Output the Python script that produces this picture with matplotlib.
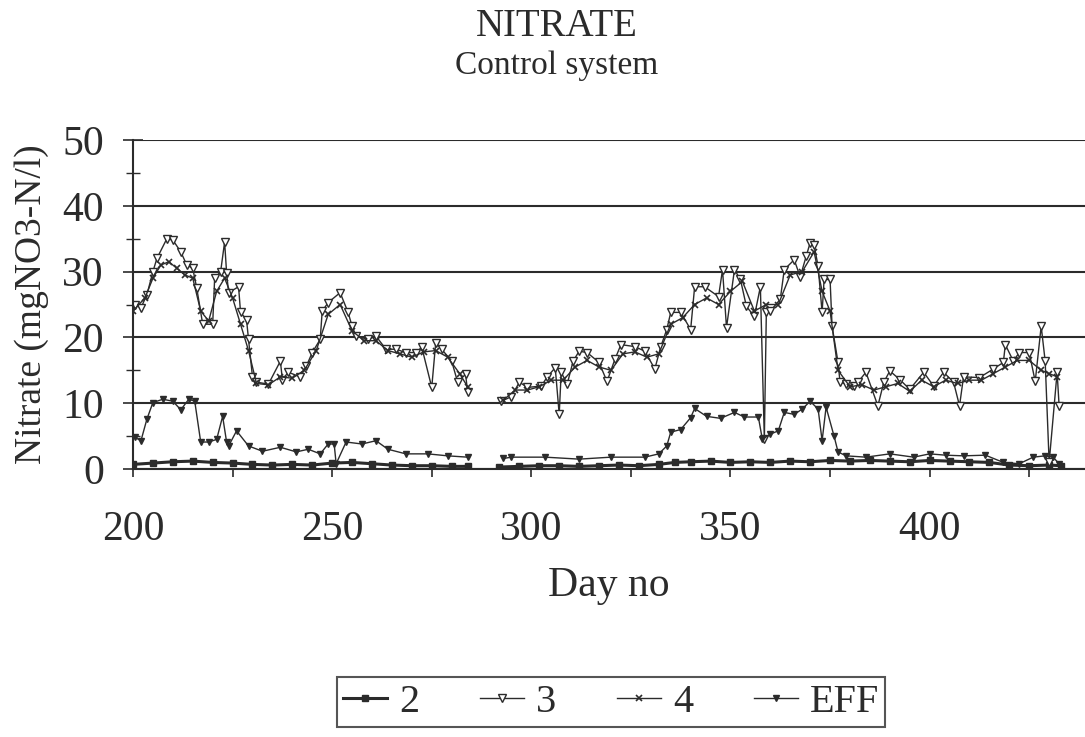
import numpy as np
import matplotlib
matplotlib.use("Agg")
import matplotlib.pyplot as plt
from matplotlib.ticker import MultipleLocator

plt.rcParams['font.family'] = ['Liberation Serif', 'DejaVu Serif']

# ---- data ----
nan = np.nan

day_3 = [200.5, 202, 203.5, 205, 206, 208.5, 210, 212, 213.5, 215, 216, 217.5, 220, 220.5, 222,
         223, 223.5, 224, 226.5, 227, 228.5, 229, 230, 231, 234, 237, 237.5, 239, 242, 243.5,
         245, 247, 247.5, 249, 252, 254, 255, 256, 259, 261, 263.5, 266, 268.5, 271, 272.5,
         275, 276, 277.5, 280, 281.5, 283.5, 284, 288,
         292.5, 295, 297, 299, 302.5, 304, 306, 307, 307.5, 309, 310.5, 312, 314, 317, 319,
         321, 322.5, 326, 328.5, 331, 332.5, 334, 335, 337.5, 340, 341, 343.5, 347, 348, 349,
         351, 352.5, 354, 356, 357.5, 358.5, 359, 360, 362.5, 363.5, 366, 367.5, 369, 370, 371,
         372, 373, 373.5, 375, 375.5, 377, 377.5, 379, 381, 382, 384, 387, 388.5, 390, 392.5,
         395, 398.5, 401, 403.5, 406, 407.5, 408.5, 412.5, 416, 418.5, 419, 421, 422.5, 425,
         426.5, 428, 429, 430, 432, 432.5]
nitrate_3 = [25, 24.5, 26.5, 30, 32, 35, 34.8, 33, 31, 30.5, 27.5, 22, 22, 29, 30,
             34.5, 29.8, 26.8, 27.7, 23.8, 22.7, 19.7, 14, 13.2, 12.9, 16.4, 13.6, 14.7, 14, 15.6,
             17.7, 19.7, 24, 25.3, 26.8, 23.8, 21.7, 20.2, 19.7, 20.2, 18.2, 18.2, 17.7, 17.7, 18.5,
             12.4, 19.2, 18.2, 16.4, 13.2, 14.4, 11.7, nan,
             10.3, 11, 13.2, 12.4, 12.6, 14, 15.4, 8.3, 14.7, 12.9, 16.4, 17.9, 17.7, 16.2, 13.3,
             16.7, 18.9, 18.6, 17.9, 15.2, 18.6, 21.2, 23.8, 23.8, 21.2, 27.7, 27.7, 26.2, 30.3, 21.5,
             30.3, 28.8, 24.7, 23.2, 27.7, 4.5, 23.8, 24, 25.8, 30.3, 31.8, 29.2, 32.3, 34.4, 34,
             30.8, 23.8, 28.8, 28.8, 21.7, 16.2, 13.2, 12.9, 12.6, 13.2, 14.7, 9.6, 13.2, 14.9, 13.6,
             12.1, 14.7, 12.6, 14.7, 13.2, 9.6, 14, 13.9, 15.2, 16.2, 18.9, 16.4, 17.7, 17.7,
             13.3, 21.7, 16.4, 1, 14.7, 9.6]

day_4 = [200, 203, 205, 207, 209, 211, 213, 215, 217, 219, 221, 223, 225, 227, 229, 231, 234,
         237, 240, 243, 246, 249, 252, 255, 258, 261, 264, 267, 270, 273, 276, 279, 282, 284, 288,
         293, 296, 299, 302, 305, 308, 311, 314, 317, 320, 323, 326, 329, 332, 335, 338, 341,
         344, 347, 350, 353, 356, 359, 362, 365, 368, 371, 373, 375, 377, 380, 383, 386, 389,
         392, 395, 398, 401, 404, 407, 410, 413, 416, 419, 422, 425, 428, 430, 432]
nitrate_4 = [24, 26, 29, 31, 31.5, 30.5, 29.5, 29, 24, 22.5, 27, 29, 26, 22, 18, 13, 12.8,
             14, 13.8, 15, 18, 23.5, 25, 21, 19.5, 19.5, 18, 17.5, 17, 17.8, 18, 17, 14.5, 12.5, nan,
             10.5, 12, 12, 12.5, 13.5, 13.5, 15.5, 16.5, 15.5, 15, 17.5, 17.8, 17, 17.5, 22, 23, 25,
             26, 25, 27, 28.5, 24, 25, 25, 29.5, 30, 33, 27, 24, 15, 12.5, 12.8, 12, 12.5,
             13, 11.8, 13.5, 12.5, 13.5, 13, 13.5, 13.5, 14.5, 15.5, 16.5, 16.5, 15, 14.5, 14]

day_eff = [200.5, 202, 203.5, 205, 207.5, 210, 212, 214, 215.5, 217, 219, 221, 222.5, 223.5, 224,
           226, 229, 232.5, 237, 241, 244, 247, 249, 250.5, 251, 253.5, 257.5, 261, 264, 268.5,
           274, 279, 284, 288,
           293, 295, 303.5, 312, 320, 328.5, 332, 334, 335, 337.5, 340, 341, 344, 347.5, 351,
           353.5, 357, 358, 360, 362, 363.5, 366, 368, 370, 372, 373, 374, 376, 377, 379, 384,
           390, 396, 400, 404, 408.5, 414, 418.5, 422.5, 426, 429, 431, 432.5]
nitrate_eff = [4.8, 4.3, 7.6, 10.1, 10.6, 10.3, 9, 10.6, 10.3, 4.1, 4.1, 4.5, 8, 4.1, 3.5,
               5.8, 3.5, 2.7, 3.3, 2.6, 3, 2.3, 3.8, 3.8, 0.8, 4.1, 3.8, 4.3, 3, 2.3,
               2.3, 2, 1.8, nan,
               1.6, 1.8, 1.8, 1.5, 1.8, 1.8, 2.3, 3.5, 5.6, 6, 7.8, 9.2, 8, 7.7, 8.6,
               7.9, 7.9, 4.5, 5.3, 5.8, 8.6, 8.3, 9.1, 10.3, 9.1, 4.3, 9.4, 5, 2.6, 2, 1.8,
               2.3, 1.8, 2.3, 2.1, 2, 2.1, 1, 0.8, 1.8, 2, 1.8, 0.8]

day_2 = [200, 205, 210, 215, 220, 225, 230, 235, 240, 245, 250, 255, 260, 265, 270, 275, 280,
         284, 288, 292, 297, 302, 307, 312, 317, 322, 327, 332, 336, 340, 345, 350, 355, 360,
         365, 370, 375, 380, 385, 390, 395, 400, 405, 410, 415, 420, 425, 430, 433]
nitrate_2 = [0.7, 0.9, 1.1, 1.2, 1.0, 0.9, 0.7, 0.6, 0.7, 0.6, 0.9, 1.0, 0.8, 0.6, 0.5, 0.5, 0.4,
             0.4, nan, 0.3, 0.4, 0.5, 0.5, 0.4, 0.5, 0.6, 0.5, 0.7, 1.0, 1.1, 1.2, 1.0, 1.1, 1.0,
             1.2, 1.1, 1.3, 1.2, 1.3, 1.2, 1.1, 1.3, 1.2, 1.1, 1.0, 0.6, 0.5, 0.6, 0.5]

labels = ['2', '3', '4', 'EFF']

# ---- figure ----
ink = '#2b2b2b'
fig = plt.figure(figsize=(10.85, 7.37), dpi=100)
ax = fig.add_axes([133 / 1085, 1 - 469 / 737, 1 - 133 / 1085, (469 - 140) / 737])

ax.plot(day_2, nitrate_2, color=ink, lw=2.2, marker='s', ms=4, mfc=ink, label=labels[0])
ax.plot(day_3, nitrate_3, color=ink, lw=1.0, marker='v', ms=6, mfc='white', mew=1.0, label=labels[1])
ax.plot(day_4, nitrate_4, color=ink, lw=1.0, marker='x', ms=5, mew=1.2, label=labels[2])
ax.plot(day_eff, nitrate_eff, color=ink, lw=1.0, marker='v', ms=5, mfc=ink, label=labels[3])

ax.set_xlim(200, 439)
ax.set_ylim(0, 50)
ax.yaxis.set_major_locator(MultipleLocator(10))
ax.yaxis.set_minor_locator(MultipleLocator(5))
ax.xaxis.set_major_locator(MultipleLocator(50))
ax.xaxis.set_minor_locator(MultipleLocator(25))
ax.grid(axis='y', color=ink, lw=1.5)
ax.set_axisbelow(True)

for s in ['top', 'right']:
    ax.spines[s].set_visible(False)
ax.spines['left'].set_color(ink)
ax.spines['bottom'].set_color(ink)
ax.spines['left'].set_linewidth(1.5)
ax.spines['bottom'].set_linewidth(1.5)

ax.tick_params(axis='y', which='major', direction='inout', length=14, width=1.2, color=ink,
               labelsize=30, labelcolor=ink, pad=14)
ax.tick_params(axis='y', which='minor', direction='inout', length=10, width=1.0, color=ink)
ax.tick_params(axis='x', which='both', direction='out', length=6, width=1.2, color=ink,
               labelsize=30, labelcolor=ink, pad=24)

ax.set_xlabel('Day no', fontsize=30, color=ink)
ax.xaxis.set_label_coords(0.5, -0.295)
ax.set_ylabel('Nitrate (mgNO3-N/l)', fontsize=27, color=ink)
ax.yaxis.set_label_coords(-0.088, 0.5)

fig.text(557 / 1085, 1 - 27 / 737, 'NITRATE', ha='center', va='center', fontsize=28, color=ink)
fig.text(557 / 1085, 1 - 66 / 737, 'Control system', ha='center', va='center', fontsize=24, color=ink)

leg = fig.legend(loc='center', bbox_to_anchor=(611 / 1085, 1 - 702 / 737), ncol=4,
                 fontsize=29, frameon=True, fancybox=False, edgecolor=ink,
                 handlelength=1.1, handletextpad=0.3, columnspacing=1.5,
                 borderpad=0.15, labelcolor=ink)
leg.get_frame().set_linewidth(1.5)

fig.savefig('out.png', dpi=100)
